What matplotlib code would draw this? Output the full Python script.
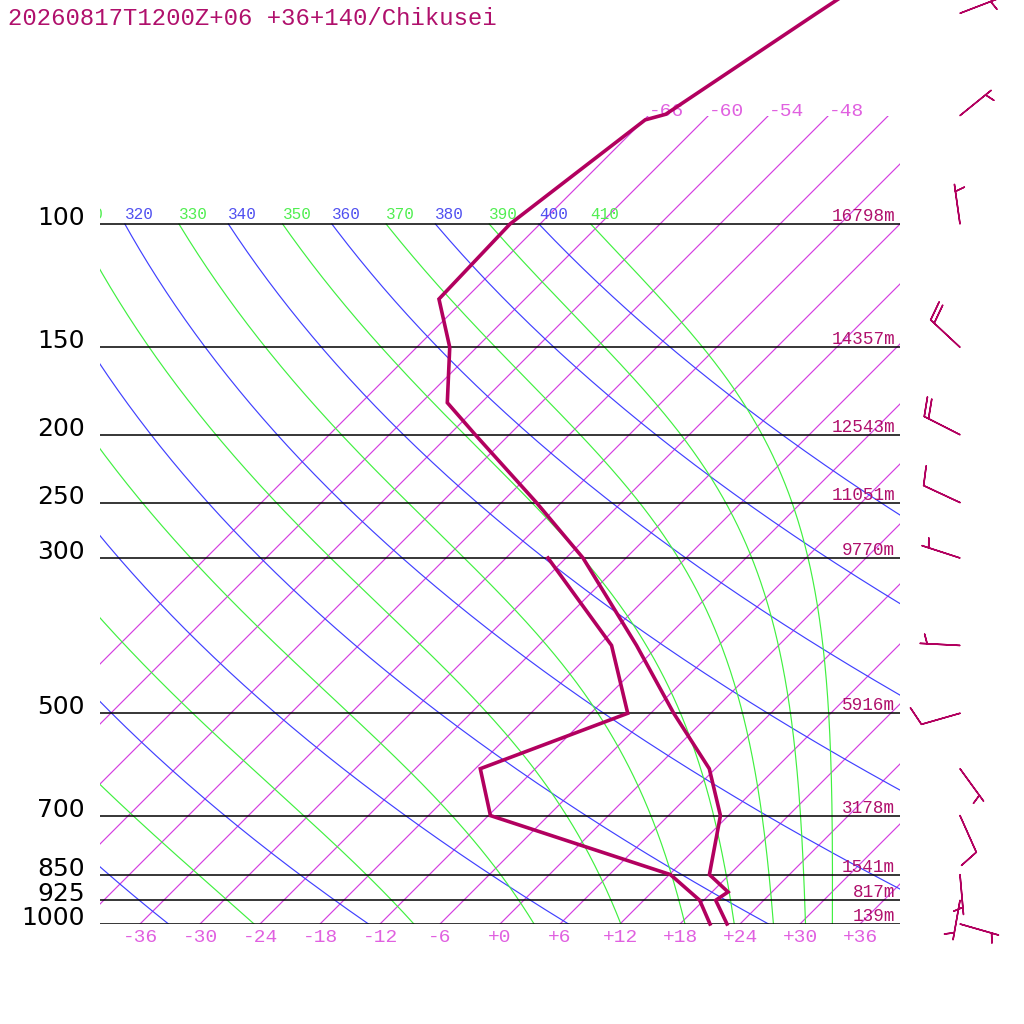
import numpy as np
import matplotlib
matplotlib.use('Agg')
import matplotlib.pyplot as plt
import matplotlib.transforms as mtransforms

# ---------------- data ----------------
title = "20260817T1200Z+06 +36+140/Chikusei"

temp_p = [1000, 925, 900, 850, 700, 600, 500, 400, 300, 250, 200, 180, 150, 128, 100, 71, 69.7, 50, 40]
temp_c = [22.7, 19.2, 19.6, 16.0, 11.2, 5.4, -3.7, -14.2, -28.3, -38.5, -51.4, -57.4, -62.7,
          -68.6, -69.0, -65.9, -64.4, -59.4, -55.9]

dew_p = [1000, 925, 850, 700, 600, 500, 400, 300]
dew_c = [21.0, 17.6, 12.1, -11.8, -17.5, -8.3, -16.7, -31.8]

level_p = [100, 150, 200, 250, 300, 500, 700, 850, 925, 1000]
level_labels = ["100", "150", "200", "250", "300", "500", "700", "850", "925", "1000"]
height_labels = ["16798m", "14357m", "12543m", "11051m", "9770m", "5916m",
                 "3178m", "1541m", "817m", "139m"]

wind_p = [1000, 925, 850, 700, 600, 500, 400, 300, 250, 200, 150, 100, 70, 50]
wind_dir = [106, 190, 175, 156, 144, 254, 273, 288, 295, 297, 313, 352, 51, 69]
wind_kt = [5, 5, 5, 10, 5, 10, 5, 5, 10, 20, 20, 5, 5, 5]

isotherms = list(range(-66, 37, 6))
isotherm_top_labels = [-66, -60, -54, -48]
bottom_temps = list(range(-36, 37, 6))
bottom_labels = ["-36", "-30", "-24", "-18", "-12", "-6", "+0", "+6", "+12", "+18", "+24", "+30", "+36"]
dry_theta = [240, 260, 280, 300, 320, 340, 360, 380, 400]
moist_thetae = [250, 270, 290, 310, 330, 350, 370, 390, 410]

# ---------------- styles ----------------
C_PROF = '#b2005f'
C_TXT = '#b0106c'
C_ISO = '#d43fe0'
C_ISO_TXT = '#e060e0'
C_DRY = '#4040ff'
C_MOIST = '#40f040'
MONO = 'Liberation Mono'

fig = plt.figure(figsize=(10.24, 10.24), dpi=100)
W = 1024.0
top_p = 70.0
h_px = 700.0 * np.log10(1000.0 / top_p)
rect = [100 / W, 100 / W, 800 / W, h_px / W]
ax = fig.add_axes(rect)
ax.set_yscale('log')
ax.set_ylim(1000, top_p)
ax.set_xlim(-40, 40)
ax.set_autoscale_on(False)
ax.axis('off')

y0 = ax.transData.transform((0, 1000))[1]
skew = ax.transData + mtransforms.Affine2D().translate(0, -y0).skew_deg(45, 0).translate(0, y0)
blend = mtransforms.blended_transform_factory(ax.transAxes, ax.transData)

# pressure grid for background lines
pp = np.logspace(3, 2, 300)

# isotherms
for t in isotherms:
    ax.plot([t, t], [1000, top_p], transform=skew, color=C_ISO, lw=0.85, zorder=1)

# dry adiabats
KAPPA = 0.286
for th in dry_theta:
    tt = th * (pp / 1000.0) ** KAPPA - 273.15
    ax.plot(tt, pp, transform=skew, color=C_DRY, lw=0.85, zorder=1)


def thetae_sat(tk, p):
    tc = tk - 273.15
    es = 6.112 * np.exp(17.67 * tc / (tc + 243.5))
    r = 622.0 * es / (p - es)
    return tk * (1000.0 / p) ** (0.2854 * (1 - 0.00028 * r)) * \
        np.exp((3.376 / tk - 0.00254) * r * (1 + 0.00081 * r))


moist_top = {}
for the in moist_thetae:
    lo = np.full_like(pp, 150.0)
    hi = the * (pp / 1000.0) ** 0.2854 + 1.0
    for _ in range(60):
        mid = 0.5 * (lo + hi)
        f = thetae_sat(mid, pp)
        big = f > the
        hi = np.where(big, mid, hi)
        lo = np.where(big, lo, mid)
    tt = 0.5 * (lo + hi) - 273.15
    moist_top[the] = tt[-1]
    ax.plot(tt, pp, transform=skew, color=C_MOIST, lw=0.85, zorder=1)

# horizontal pressure lines
for p in level_p:
    ax.axhline(p, color='black', lw=1.1, zorder=2)

# theta labels above 100 hPa line
lab_tr = mtransforms.offset_copy(skew, fig=fig, x=0, y=5, units='dots')
for th in dry_theta:
    t100 = th * (0.1) ** KAPPA - 273.15
    txt = ax.text(t100, 100, str(th), transform=lab_tr, ha='left', va='baseline',
                  family=MONO, fontsize=11.5, color='#5050f0', zorder=3, clip_on=True)
    txt.set_clip_box(ax.bbox)
for th in moist_thetae:
    txt = ax.text(moist_top[th], 100, str(th), transform=lab_tr, ha='left', va='baseline',
                  family=MONO, fontsize=11.5, color='#50ee50', zorder=3, clip_on=True)
    txt.set_clip_box(ax.bbox)

# isotherm labels at top
top_tr = mtransforms.offset_copy(skew, fig=fig, x=0, y=0, units='dots')
for t in isotherm_top_labels:
    ax.text(t, top_p, str(t), transform=top_tr, ha='left', va='baseline',
            family=MONO, fontsize=14, color=C_ISO_TXT, clip_on=False)

# bottom temperature labels
bot_tr = mtransforms.offset_copy(ax.transData, fig=fig, x=0, y=-18, units='dots')
for t, s in zip(bottom_temps, bottom_labels):
    ax.text(t, 1000, s, transform=bot_tr, ha='center', va='baseline',
            family=MONO, fontsize=14, color=C_ISO_TXT, clip_on=False)

# pressure labels & heights
pl_tr = mtransforms.offset_copy(blend, fig=fig, x=0, y=-1, units='dots')
hl_tr = mtransforms.offset_copy(blend, fig=fig, x=0, y=3, units='dots')
for p, s, h in zip(level_p, level_labels, height_labels):
    ax.text(-15 / 800, p, s, transform=pl_tr, ha='right', va='baseline',
            family='DejaVu Sans', fontsize=18, color='black', clip_on=False)
    ax.text(795 / 800, p, h, transform=hl_tr, ha='right', va='baseline',
            family=MONO, fontsize=12.7, color=C_TXT, clip_on=False, zorder=3)

# profiles
ax.plot(dew_c, dew_p, transform=skew, color=C_PROF, lw=2.6, zorder=5,
        solid_joinstyle='miter', clip_on=False)
ax.plot(temp_c, temp_p, transform=skew, color=C_PROF, lw=2.6, zorder=5,
        solid_joinstyle='miter', clip_on=False)

# wind barbs on an overlay axes sharing the pressure scale
axb = fig.add_axes(rect, frameon=False)
axb.set_yscale('log')
axb.set_ylim(1000, top_p)
axb.set_xlim(0, 1)
axb.set_autoscale_on(False)
axb.axis('off')
wd = np.deg2rad(np.array(wind_dir, dtype=float))
ws = np.array(wind_kt, dtype=float)
u = -ws * np.sin(wd)
v = -ws * np.cos(wd)
axb.barbs(np.full(len(wind_p), 860 / 800), wind_p, u, v,
          length=7.6, pivot='tip', color=C_PROF, linewidth=1.1,
          sizes=dict(spacing=0.12, height=0.47, width=0.3, emptybarb=0.0),
          clip_on=False, zorder=5)

# title
fig.text(8 / W, 1 - 25 / W, title, ha='left', va='baseline', family=MONO,
         fontsize=17.2, color=C_TXT)

fig.savefig('out.png', dpi=100, facecolor='white')
